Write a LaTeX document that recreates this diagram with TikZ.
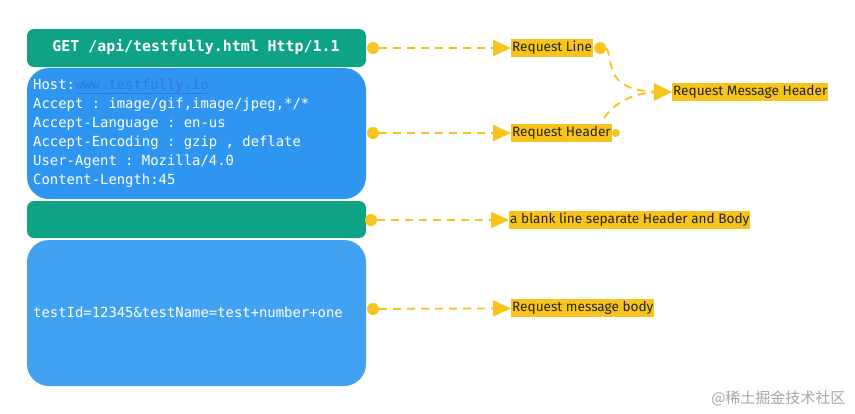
\documentclass[tikz,border=0pt]{standalone}
\usepackage{fontspec}
\setmainfont{Liberation Sans}
\setmonofont{DejaVu Sans Mono}
\newfontfamily\labelfont{Fira Sans}
\newfontfamily\cjkfont{Noto Sans CJK SC}
\usetikzlibrary{arrows.meta,positioning}
\definecolor{boxgreen}{RGB}{14,163,132}
\definecolor{hdrblue}{RGB}{46,150,240}
\definecolor{bodyblue}{RGB}{64,162,240}
\definecolor{ylw}{RGB}{246,196,28}
\definecolor{linkblue}{RGB}{58,112,232}
\definecolor{lbltext}{RGB}{40,36,20}
\begin{document}
\begin{tikzpicture}[x=1pt,y=-1pt,
  greenbox/.style={fill=boxgreen,rounded corners=7pt},
  bluebox/.style={fill=hdrblue,rounded corners=22pt},
  codetext/.style={font=\ttfamily\fontsize{13.9}{19}\selectfont,text=white,anchor=west,inner sep=0pt,align=left},
  lbl/.style={fill=ylw,text=lbltext,font=\labelfont\fontsize{13.6}{14}\selectfont,inner sep=1pt,anchor=west,minimum height=18pt},
  dotmark/.style={circle,fill=ylw,inner sep=0pt,minimum size=12pt},
  smalldot/.style={circle,fill=ylw,inner sep=0pt,minimum size=8pt},
  conn/.style={draw=ylw,line width=1.8pt,dash pattern=on 8pt off 6pt,-{Triangle[length=18pt,width=16pt]}},
]
\useasboundingbox (0,0) rectangle (855,413);
\fill[white] (0,0) rectangle (855,413);
% boxes
\path[greenbox] (27,29) rectangle (366,67);
\node[font=\ttfamily\bfseries\fontsize{14.9}{16}\selectfont,text=white] (line) at (196,47) {GET /api/testfully.html Http/1.1};
\path[bluebox] (27,68) rectangle (366,199);
\node[codetext] (hdr) at (33,133) {Host:\textcolor{linkblue}{\underline{www.testfully.io}}\\Accept : image/gif,image/jpeg,*/*\\Accept-Language : en-us\\Accept-Encoding : gzip , deflate\\User-Agent : Mozilla/4.0\\Content-Length:45};
\path[greenbox] (27,201) rectangle (366,238);
\path[bluebox,fill=bodyblue] (27,240) rectangle (366,386);
\node[codetext] (body) at (33,312) {testId=12345\&testName=test+number+one};
% dots
\node[dotmark] (d1) at (373,48) {};
\node[dotmark] (d2) at (373,133) {};
\node[dotmark] (d3) at (371,220) {};
\node[dotmark] (d4) at (373,309) {};
% labels
\node[lbl] (l1) at (511,48) {Request Line};
\node[lbl] (l2) at (511,133) {Request Header};
\node[lbl] (l3) at (509,220) {a blank line separate Header and Body};
\node[lbl] (l4) at (511,308) {Request message body};
\node[lbl] (l5) at (672,92) {Request Message Header};
\node[dotmark] (e1) at ([xshift=7pt]l1.east) {};
\node[smalldot] (e2) at ([xshift=4pt]l2.east) {};
% connectors
\draw[conn] (d1) -- (l1);
\draw[conn] (d2) -- (l2);
\draw[conn] (d3) -- (l3);
\draw[conn] (d4) -- (l4);
\draw[conn] (e1.east) .. controls (614,62) and (604,90) .. (l5.west);
\draw[conn] (604,118) .. controls (618,98) and (640,93) .. (l5.west);
% watermark
\node[font=\cjkfont\fontsize{15}{16}\selectfont,text=black!35,anchor=east] (wm) at (849,398) {@稀土掘金技术社区};
\end{tikzpicture}
\end{document}
